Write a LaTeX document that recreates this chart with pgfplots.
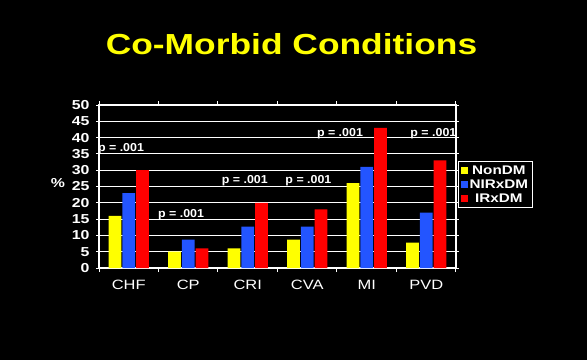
\documentclass[border=0pt]{standalone}
\usepackage{pgfplots}
\pgfplotsset{compat=1.18}
\usepackage{fontspec}
\setmainfont{Liberation Sans}
\newfontfamily\wide[FakeStretch=1.22]{Liberation Sans}
\newfontfamily\plab[FakeStretch=1.08]{Liberation Sans}
\definecolor{myyellow}{RGB}{255,255,0}
\definecolor{myblue}{RGB}{35,85,255}
\definecolor{myred}{RGB}{255,0,0}
\begin{document}
\begin{tikzpicture}
\fill[black] (0,0) rectangle (587pt,360pt);
\node[anchor=base, text=myyellow, font=\wide\bfseries\fontsize{29}{31}\selectfont] at (291.5pt,305.7pt) {Co-Morbid Conditions};
\node[text=white, font=\wide\bfseries\fontsize{13}{15}\selectfont] at (58pt,177pt) {\%};
\begin{axis}[
  at={(99pt,92pt)}, anchor=south west,
  scale only axis, width=357pt, height=163pt,
  ybar=1pt, bar width=12.7pt,
  xmin=-0.5, xmax=5.5, ymin=0, ymax=50,
  xtick={0,...,5},
  xticklabels={CHF,CP,CRI,CVA,MI,PVD},
  minor xtick={-0.5,0.5,...,5.5},
  ytick={0,5,...,50},
  axis line style={white, line width=1.2pt},
  tick style={white, line width=1pt},
  tick align=outside,
  major x tick style={draw=none},
  minor tick length=4pt,
  major tick length=3pt,
  ymajorgrids, grid style={white, line width=1pt},
  /pgf/number format/assume math mode=true,
  yticklabel style={font=\wide\bfseries\fontsize{13}{15}\selectfont, text=white, xshift=-3pt},
  xticklabel style={font=\wide\fontsize{13.5}{15}\selectfont, text=white, yshift=-6pt},
  legend style={at={(rel axis cs:1.006,0.656)}, anchor=north west, fill=black, draw=white, line width=1pt, text=white, font=\wide\bfseries\fontsize{12.5}{14}\selectfont, row sep=0pt, inner sep=2pt},
  legend image code/.code={\fill[#1] (0pt,-3.5pt) rectangle (7pt,3.5pt);},
  clip=false,
]
\addplot[fill=myyellow, draw=none] coordinates {(0,16) (1,5) (2,6) (3,8.7) (4,26) (5,7.8)};
\addplot[fill=myblue, draw=none] coordinates {(0,23) (1,8.7) (2,12.7) (3,12.7) (4,31) (5,17)};
\addplot[fill=myred, draw=none] coordinates {(0,30) (1,6) (2,20) (3,18) (4,43) (5,33)};
\legend{NonDM,NIRxDM,IRxDM}
\begin{scope}[every node/.style={anchor=base, text=white, font=\plab\bfseries\fontsize{11.5}{13}\selectfont}]
\node at (axis cs:-0.13,35.6) {p = .001};
\node at (axis cs:0.88,15.6) {p = .001};
\node at (axis cs:1.95,25.8) {p = .001};
\node at (axis cs:3.02,25.8) {p = .001};
\node at (axis cs:3.55,40.3) {p = .001};
\node at (axis cs:5.12,40.3) {p = .001};
\end{scope}
\end{axis}
\end{tikzpicture}
\end{document}
